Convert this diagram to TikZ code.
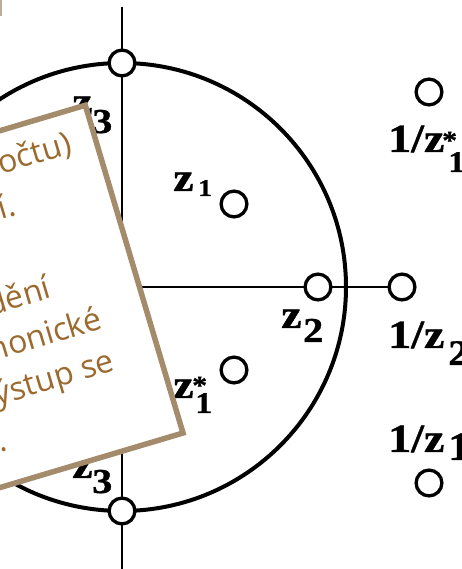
\documentclass[tikz,border=0pt]{standalone}
\usepackage{fontspec}
\setmainfont{Liberation Serif}
\newfontfamily\heavyfont{Liberation Serif Bold}[FakeBold=0.8]
\newfontfamily\notefont{Open Sans}
\definecolor{notetext}{HTML}{9B6A2E}
\definecolor{noteedge}{HTML}{A38B6B}
\newcommand\stretchx[1]{\scalebox{1.15}[1]{#1}}
\begin{document}
\begin{tikzpicture}[x=1pt,y=1pt,
  pt/.style={circle,draw,line width=3.3pt,fill=white,minimum size=25.8pt,inner sep=0pt},
  lblmain/.style={font=\heavyfont\fontsize{40}{40}\selectfont,inner sep=0pt,anchor=base west},
  lblsub/.style={font=\heavyfont\fontsize{#1}{#1}\selectfont,inner sep=0pt,anchor=base west},
  notetxt/.style={font=\notefont\fontsize{32}{32}\selectfont,text=notetext,inner sep=0pt,anchor=base east,rotate=16.6},
  axisline/.style={line width=1.3pt}
]
\useasboundingbox (0,0) rectangle (462,569);
\clip (0,0) rectangle (462,569);
\fill[white] (0,0) rectangle (462,569);

\coordinate (O) at (122,282);
\coordinate (vtop) at (122,562);
\coordinate (vbot) at (122,-2);
\coordinate (hleft) at (-110,282);
\coordinate (ci2) at (402,282);

\draw[axisline] (vtop) -- (vbot);
\draw[axisline] (hleft) -- (ci2);
\node[circle,draw,line width=4pt,minimum size=448pt,inner sep=0pt] (uc) at (O) {};

\node[pt] (z3t) at (122,506) {};
\node[pt] (z3b) at (122,58) {};
\node[pt] (z1) at (234,365) {};
\node[pt] (z1c) at (234,199) {};
\node[pt] (z2) at (318,282) {};
\node[pt] (i2) at (ci2) {};
\node[pt] (i1c) at (429,477) {};
\node[pt] (i1) at (429,86) {};

% labels
\node[lblmain] (lz1) at (173,378) {\stretchx{z}};
\node[lblsub=24] (lz1s) at (198,373) {\stretchx{1}};

\node[lblmain] (lz1c) at (173,171) {\stretchx{z}};
\node[lblsub=26] (lz1cst) at (192,175) {\stretchx{*}};
\node[lblsub=30] (lz1cs) at (195,156) {\stretchx{1}};

\node[lblmain] (lz2) at (281,241) {\stretchx{z}};
\node[lblsub=35] (lz2s) at (303,227) {\stretchx{2}};

\node[lblmain] (li2) at (388,221) {\stretchx{1/z}};
\node[lblsub=36] (li2s) at (448,204) {\stretchx{2}};

\node[lblmain] (li1c) at (388,417) {\stretchx{1/z}};
\node[lblsub=26] (li1cst) at (442,420) {\stretchx{*}};
\node[lblsub=30] (li1cs) at (448,397) {\stretchx{1}};

\node[lblmain] (li1) at (388,117) {\stretchx{1/z}};
\node[lblsub=40] (li1s) at (448,109) {\stretchx{1}};

\node[lblmain] (lz3) at (72,454) {\stretchx{z}};
\node[lblsub=35] (lz3s) at (92,436) {\stretchx{3}};

\node[lblmain] (lz3c) at (72,91) {\stretchx{z}};
\node[lblsub=26] (lz3cst) at (92,105) {\stretchx{*}};
\node[lblsub=35] (lz3cs) at (92,76) {\stretchx{3}};

% note box
\begin{scope}[shift={(183,136)},rotate=16.6]
\draw[noteedge,line width=5.5pt,fill=white] (-460,0) rectangle (0,342);
\node[notetxt] (n1) at (-25,300) {(z výpočtu)};
\node[notetxt] (n2) at (-96,256) {není.};
\node[notetxt] (n4) at (-86,167) {zpoždění};
\node[notetxt] (n5) at (-46,123) {harmonické};
\node[notetxt] (n6) at (-46,79) {výstup se};
\node[notetxt] (n7) at (-172,34) {zpozdí.};
\end{scope}
\draw[noteedge!70,line width=2pt] (1,569) -- (1,553);
\end{tikzpicture}
\end{document}
